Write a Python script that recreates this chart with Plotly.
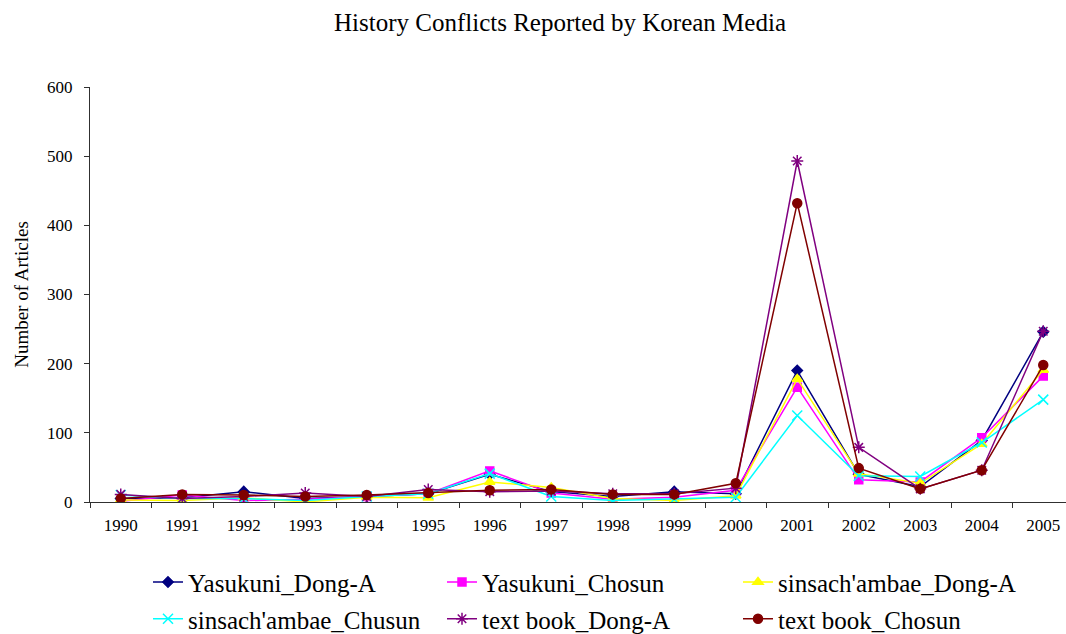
import plotly.graph_objects as go

years = ["1990", "1991", "1992", "1993", "1994", "1995", "1996", "1997",
         "1998", "1999", "2000", "2001", "2002", "2003", "2004", "2005"]

yasukuni_donga = [5, 6, 15, 5, 8, 12, 40, 15, 8, 15, 12, 190, 40, 22, 89, 246]
yasukuni_chosun = [1, 10, 2, 4, 8, 12, 45, 13, 4, 7, 17, 166, 32, 29, 93, 182]
sinsach_donga = [3, 2, 6, 0, 7, 6, 29, 21, 5, 2, 9, 178, 41, 27, 84, 191]
sinsach_chusun = [10, 5, 5, 2, 8, 12, 41, 8, 2, 4, 7, 125, 38, 37, 86, 148]
textbook_donga = [11, 5, 8, 13, 8, 18, 15, 16, 12, 12, 20, 493, 79, 19, 46, 247]
textbook_chosun = [5, 11, 10, 8, 10, 13, 17, 18, 11, 11, 27, 432, 49, 19, 46, 198]

names = ["Yasukuni_Dong-A", "Yasukuni_Chosun", "sinsach'ambae_Dong-A",
         "sinsach'ambae_Chusun", "text book_Dong-A", "text book_Chosun"]
series = [yasukuni_donga, yasukuni_chosun, sinsach_donga,
          sinsach_chusun, textbook_donga, textbook_chosun]
colors = ["#000080", "#FF00FF", "#FFFF00", "#00FFFF", "#800080", "#800000"]
symbols = ["diamond", "square", "triangle-up", "x-thin", "asterisk", "circle"]
sizes = [8, 8, 9, 10, 10, 9]

# vertical correction for the capture (page appears 8px taller than the shot)
K = 642 / 634
W, H = 1066, 642
L, R = 90, 0
T = round(86 * K)
B = H - round(502 * K)
PW = W - L - R
PH = H - T - B

fig = go.Figure()
legend_ids = ["legend", "legend2", "legend3", "legend4", "legend5", "legend6"]
for name, vals, c, s, sz, lg in zip(names, series, colors, symbols, sizes, legend_ids):
    fig.add_trace(go.Scatter(
        x=years, y=vals, name=name, mode="lines+markers",
        line=dict(color=c, width=1.5),
        marker=dict(symbol=s, size=sz, color=c,
                    line=dict(color=c, width=1.5)),
        legend=lg, showlegend=True,
    ))

font = "Liberation Serif, Times New Roman, serif"


def legend_at(text_x, row_y):
    lx = text_x - 39
    ly = row_y * K
    return dict(
        x=(lx - L) / PW, y=-(ly - (T + PH)) / PH,
        xanchor="left", yanchor="middle", orientation="v",
        font=dict(family=font, size=25, color="black"),
        bgcolor="rgba(0,0,0,0)", borderwidth=0, visible=True,
    )


col_text_x = [187, 481, 777]
row_y = [582, 619]

layout_legends = {}
for i, lg in enumerate(legend_ids):
    layout_legends[lg] = legend_at(col_text_x[i % 3], row_y[i // 3])

axis_color = "#303030"

fig.update_layout(
    width=W, height=H, showlegend=True,
    paper_bgcolor="white", plot_bgcolor="white",
    margin=dict(l=L, r=R, t=T, b=B),
    title=dict(text="History Conflicts Reported by Korean Media",
               x=560 / W, xanchor="center",
               y=1 - 22 * K / H, yanchor="middle",
               font=dict(family=font, size=25, color="black")),
    font=dict(family=font, color="black"),
    xaxis=dict(
        type="category", range=[-0.5, 15.37],
        tickson="boundaries", ticks="outside", ticklen=5, tickcolor=axis_color,
        showline=True, linecolor=axis_color, linewidth=1,
        showgrid=False, zeroline=False, ticklabelstandoff=8,
        tickfont=dict(family=font, size=17, color="black"),
    ),
    yaxis=dict(
        range=[0, 600], dtick=100, ticks="outside", ticklen=5, tickcolor=axis_color,
        showline=True, linecolor=axis_color, linewidth=1,
        showgrid=False, zeroline=False, ticklabelstandoff=8,
        tickfont=dict(family=font, size=17, color="black"),
        title=dict(text="Number of Articles", standoff=13,
                   font=dict(family=font, size=19, color="black")),
    ),
    **layout_legends,
)

fig.write_html(
    "out.html",
    config={"displayModeBar": False},
    post_script="document.body.style.margin='0';"
                "document.documentElement.style.overflow='hidden';",
)
